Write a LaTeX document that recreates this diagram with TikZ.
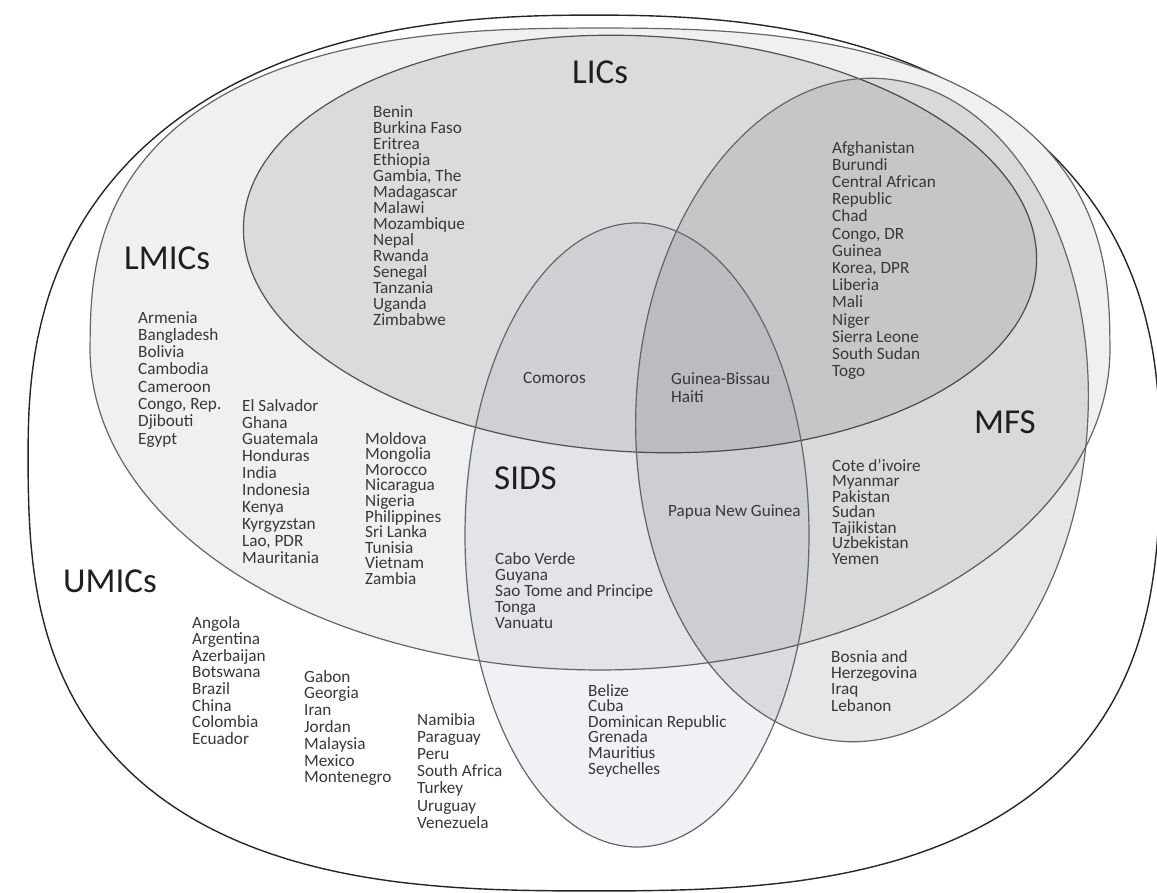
\documentclass[tikz,border=0pt]{standalone}
\usepackage{fontspec}
\setmainfont{Carlito}
\definecolor{sidsblue}{RGB}{60,70,115}
\tikzset{
  setname/.style={anchor=base west, inner sep=0pt, text=black!88, font=\fontsize{35}{35}\selectfont},
  countries/.style={anchor=north west, inner sep=0pt, align=left, text=black!78, font=\fontsize{17.2}{#1}\selectfont},
  countries/.default=16,
  rim/.style={line width=1.4pt, draw=black!85},
  ring/.style={line width=1.2pt, draw=black!60},
}
\begin{document}
\begin{tikzpicture}[x=1pt,y=-1pt]
    \useasboundingbox (0,0) rectangle (1157,893);
    % UMICs
    \filldraw[rim, fill=white]
        plot[domain=180.5:359.5, samples=180]
        ({594+566*cos(\x)/abs(cos(\x))^0.167}, {453+438*sin(\x)/abs(sin(\x))^0.167})
        -- plot[domain=0.5:179.5, samples=180]
        ({594+566*cos(\x)/abs(cos(\x))^0.27}, {453+438*sin(\x)/abs(sin(\x))^0.27}) -- cycle;
    % LMICs
    \filldraw[ring, fill=black!6]
        plot[domain=180.5:359.5, samples=180]
        ({600+510*cos(\x)/abs(cos(\x))^0.23}, {349+321*sin(\x)/abs(sin(\x))^0.23})
        -- plot[domain=0.5:179.5, samples=180] ({600+510*cos(\x)}, {349+321*sin(\x)}) -- cycle;
    % LICs, MFS, SIDS
    \filldraw[ring, draw=black!68, fill=black, fill opacity=.085, rotate around={-3:(640,244)}]
        (640,244) ellipse [x radius=397pt, y radius=208pt];
    \filldraw[ring, fill=black, fill opacity=.095, rotate around={-3:(862,410)}]
        (862,410) ellipse [x radius=226pt, y radius=332pt];
    \filldraw[ring, fill=sidsblue, fill opacity=.07]
        (637,535) ellipse [x radius=172pt, y radius=312pt];

    \node[setname] (licslabel) at (572,84) {LICs};
    \node[setname] (lmicslabel) at (124,270) {LMICs};
    \node[setname] (umicslabel) at (63,592) {UMICs};
    \node[setname] (sidslabel) at (494,489) {SIDS};
    \node[setname] (mfslabel) at (974,433) {MFS};

    \node[countries] (licsonly) at (373,105) {Benin\\Burkina Faso\\Eritrea\\Ethiopia\\Gambia, The\\Madagascar\\Malawi\\Mozambique\\Nepal\\Rwanda\\Senegal\\Tanzania\\Uganda\\Zimbabwe};
    \node[countries=17.2] (licsmfs) at (832,141) {Afghanistan\\Burundi\\Central African\\Republic\\Chad\\Congo, DR\\Guinea\\Korea, DPR\\Liberia\\Mali\\Niger\\Sierra Leone\\South Sudan\\Togo};
    \node[countries=17.3] (lmicsa) at (138,311) {Armenia\\Bangladesh\\Bolivia\\Cambodia\\Cameroon\\Congo, Rep.\\Djibouti\\Egypt};
    \node[countries=16.9] (lmicsb) at (242,399) {El Salvador\\Ghana\\Guatemala\\Honduras\\India\\Indonesia\\Kenya\\Kyrgyzstan\\Lao, PDR\\Mauritania};
    \node[countries=15.6] (lmicsc) at (365,432) {Moldova\\Mongolia\\Morocco\\Nicaragua\\Nigeria\\Philippines\\Sri Lanka\\Tunisia\\Vietnam\\Zambia};
    \node[countries] (comoros) at (523,372) {Comoros};
    \node[countries=18] (gbhaiti) at (671,372) {Guinea-Bissau\\Haiti};
    \node[countries] (png) at (668,504) {Papua New Guinea};
    \node[countries] (sidslmics) at (495,552) {Cabo Verde\\Guyana\\Sao Tome and Principe\\Tonga\\Vanuatu};
    \node[countries=15.6] (sidsumics) at (588,684) {Belize\\Cuba\\Dominican Republic\\Grenada\\Mauritius\\Seychelles};
    \node[countries=15.5] (mfslmics) at (832,459) {Cote d'ivoire\\Myanmar\\Pakistan\\Sudan\\Tajikistan\\Uzbekistan\\Yemen};
    \node[countries=16.3] (mfsumics) at (831,650) {Bosnia and\\Herzegovina\\Iraq\\Lebanon};
    \node[countries=16.6] (umicsa) at (192,616) {Angola\\Argentina\\Azerbaijan\\Botswana\\Brazil\\China\\Colombia\\Ecuador};
    \node[countries=16.8] (umicsb) at (304,670) {Gabon\\Georgia\\Iran\\Jordan\\Malaysia\\Mexico\\Montenegro};
    \node[countries=17.2] (umicsc) at (417,713) {Namibia\\Paraguay\\Peru\\South Africa\\Turkey\\Uruguay\\Venezuela};
\end{tikzpicture}
\end{document}
